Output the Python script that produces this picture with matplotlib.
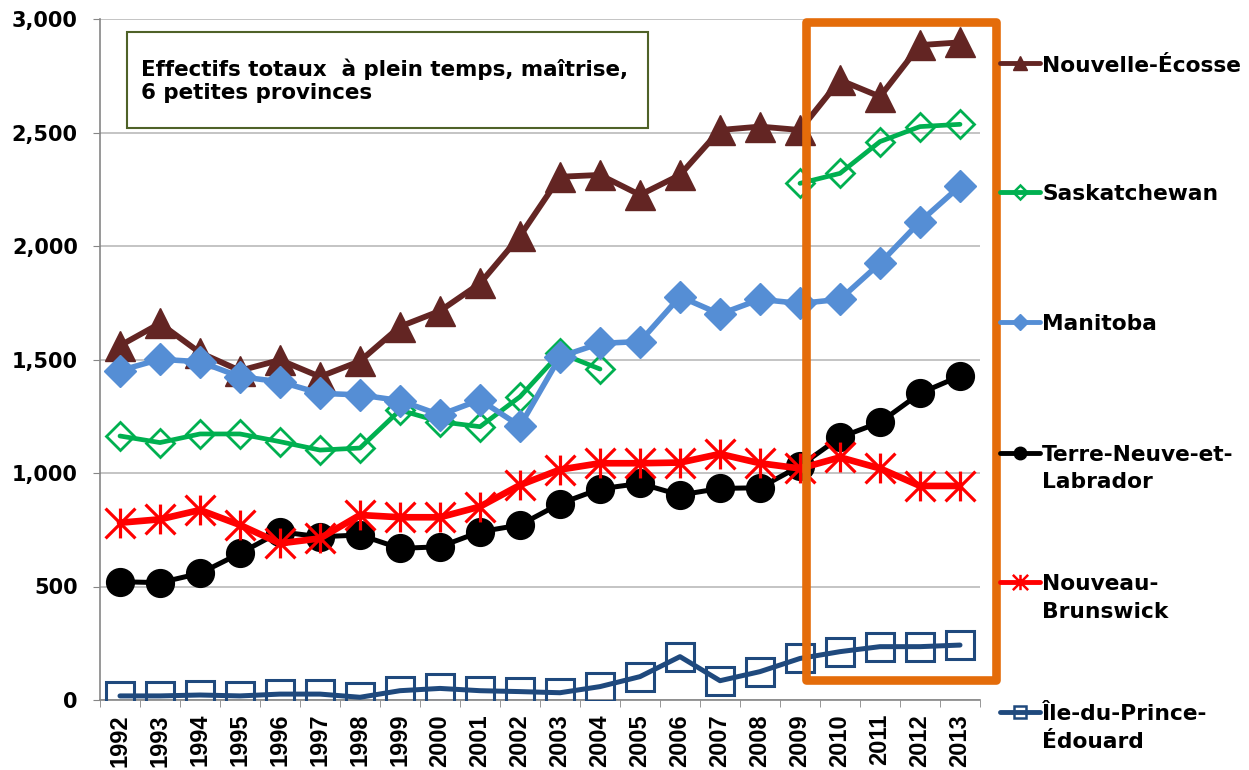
import numpy as np
import matplotlib
matplotlib.use("Agg")
import matplotlib.pyplot as plt
from matplotlib.path import Path
from matplotlib.patches import Rectangle
from matplotlib.lines import Line2D

plt.rcParams['font.family'] = ['DejaVu Sans']
plt.rcParams['font.weight'] = 'bold'

nan = np.nan

# Données
annees = [str(a) for a in range(1992, 2014)]
nouvelle_ecosse = [1561, 1659, 1530, 1451, 1498, 1424, 1493, 1645, 1714, 1835, 2044, 2305,
                   2313, 2225, 2313, 2511, 2526, 2511, 2731, 2658, 2885, 2897]
saskatchewan = [1163, 1134, 1172, 1172, 1138, 1101, 1110, 1277, 1226, 1204, 1336, 1528,
                1458, nan, nan, nan, nan, 2276, 2320, 2460, 2526, 2536]
manitoba = [1451, 1501, 1490, 1424, 1402, 1351, 1344, 1319, 1256, 1322, 1207, 1512,
            1571, 1579, 1777, 1700, 1765, 1747, 1765, 1924, 2107, 2264]
terre_neuve = [521, 517, 558, 646, 741, 719, 727, 668, 675, 741, 771, 865,
               930, 954, 903, 932, 935, 1031, 1157, 1223, 1351, 1427]
nouveau_brunswick = [781, 796, 837, 771, 690, 712, 815, 805, 805, 852, 947, 1015,
                     1043, 1043, 1046, 1084, 1043, 1020, 1069, 1020, 943, 943]
ile_pe = [18, 18, 22, 18, 26, 26, 12, 41, 51, 41, 37, 32,
          59, 103, 191, 85, 125, 183, 213, 235, 235, 242]

noms = ['Nouvelle-Écosse', 'Saskatchewan', 'Manitoba', 'Terre-Neuve-et-\nLabrador',
        'Nouveau-\nBrunswick', 'Île-du-Prince-\nÉdouard']

# marqueur étoile façon Excel (X + barre verticale)
etoile = Path([(0, -1), (0, 1), (-1, -1), (1, 1), (-1, 1), (1, -1)],
              [Path.MOVETO, Path.LINETO] * 3)

styles = [
    dict(color='#632523', lw=4.2, marker='^', ms=21, mfc='#632523', mec='#632523', mew=1),
    dict(color='#00B050', lw=3.4, marker='D', ms=14.5, mfc='none', mec='#00B050', mew=2.0),
    dict(color='#558ED5', lw=4.0, marker='D', ms=16, mfc='#558ED5', mec='#558ED5', mew=1),
    dict(color='#000000', lw=3.6, marker='o', ms=20, mfc='#000000', mec='#000000', mew=1),
    dict(color='#FF0000', lw=4.8, marker=etoile, ms=21.5, mfc='none', mec='#FF0000', mew=2.3),
    dict(color='#1F497D', lw=3.6, marker='s', ms=20, mfc='none', mec='#1F497D', mew=2.2),
]
series = [nouvelle_ecosse, saskatchewan, manitoba, terre_neuve, nouveau_brunswick, ile_pe]

fig = plt.figure(figsize=(12.49, 7.70), dpi=100)
ax = fig.add_axes([100 / 1249, 70 / 770, 880 / 1249, 681 / 770])

x = np.arange(len(annees))
for i, (vals, st) in enumerate(zip(series, styles)):
    ax.plot(x, vals, zorder=3 + i, solid_capstyle='round', solid_joinstyle='round', **st)

ax.set_xlim(-0.5, len(annees) - 0.5)
ax.set_ylim(0, 3000)
ax.set_yticks(range(0, 3001, 500))
ax.set_yticklabels([f'{v:,}' for v in range(0, 3001, 500)], fontsize=15, fontweight='bold')
ax.set_xticks(x)
ax.set_xticklabels(annees, rotation=90, fontsize=17, fontweight='bold',
                   family=['Liberation Sans', 'DejaVu Sans'])
ax.set_xticks(np.arange(-0.5, len(annees), 1), minor=True)
ax.tick_params(axis='x', which='major', length=0, pad=10)
ax.tick_params(axis='x', which='minor', length=5, color='#868686')
ax.tick_params(axis='y', length=5, color='#868686', pad=11)
ax.yaxis.grid(True, color='#BFBFBF', lw=1.3)
ax.set_axisbelow(True)
for s in ['top', 'right']:
    ax.spines[s].set_visible(False)
for s in ['left', 'bottom']:
    ax.spines[s].set_color('#868686')
    ax.spines[s].set_linewidth(1.2)

# cadre orange autour de 2009-2013
ax.add_patch(Rectangle((17.15, 88), 21.89 - 17.15, 2988 - 88, fill=False,
                       edgecolor='#E46C0A', lw=6.2, zorder=20, clip_on=False,
                       joinstyle='round'))

# encadré du titre
fig.patches.append(Rectangle((127 / 1249, 1 - 128 / 770), 521 / 1249, 96 / 770,
                             transform=fig.transFigure, fill=True, facecolor='white',
                             edgecolor='#4F6228', lw=1.5, zorder=25))
fig.text(141 / 1249, 1 - 75.7 / 770, 'Effectifs totaux  à plein temps, maîtrise,',
         fontsize=15.4, fontweight='bold', va='baseline', ha='left', zorder=26)
fig.text(141 / 1249, 1 - 99.3 / 770, '6 petites provinces',
         fontsize=15.4, fontweight='bold', va='baseline', ha='left', zorder=26)

# légende à droite
leg_y = [63, 192, 322, 453, 582, 712]
leg_ms = [10, 7, 8.5, 9, 11, 9]
for nom, st, py, lms in zip(noms, styles, leg_y, leg_ms):
    yf = 1 - py / 770
    fig.add_artist(Line2D([1000 / 1249, 1040 / 1249], [yf, yf], transform=fig.transFigure,
                          color=st['color'], lw=3.5, solid_capstyle='round'))
    fig.add_artist(Line2D([1020 / 1249], [yf], transform=fig.transFigure,
                          marker=st['marker'], ms=lms, mfc=st['mfc'], mec=st['mec'],
                          mew=min(st['mew'], 1.8), ls='none'))
    for k, ligne in enumerate(nom.split('\n')):
        fig.text(1042 / 1249, 1 - (py + 8.5 + 27 * k) / 770, ligne, fontsize=15.7,
                 fontweight='bold', ha='left', va='baseline')

fig.savefig('out.png', dpi=100)
